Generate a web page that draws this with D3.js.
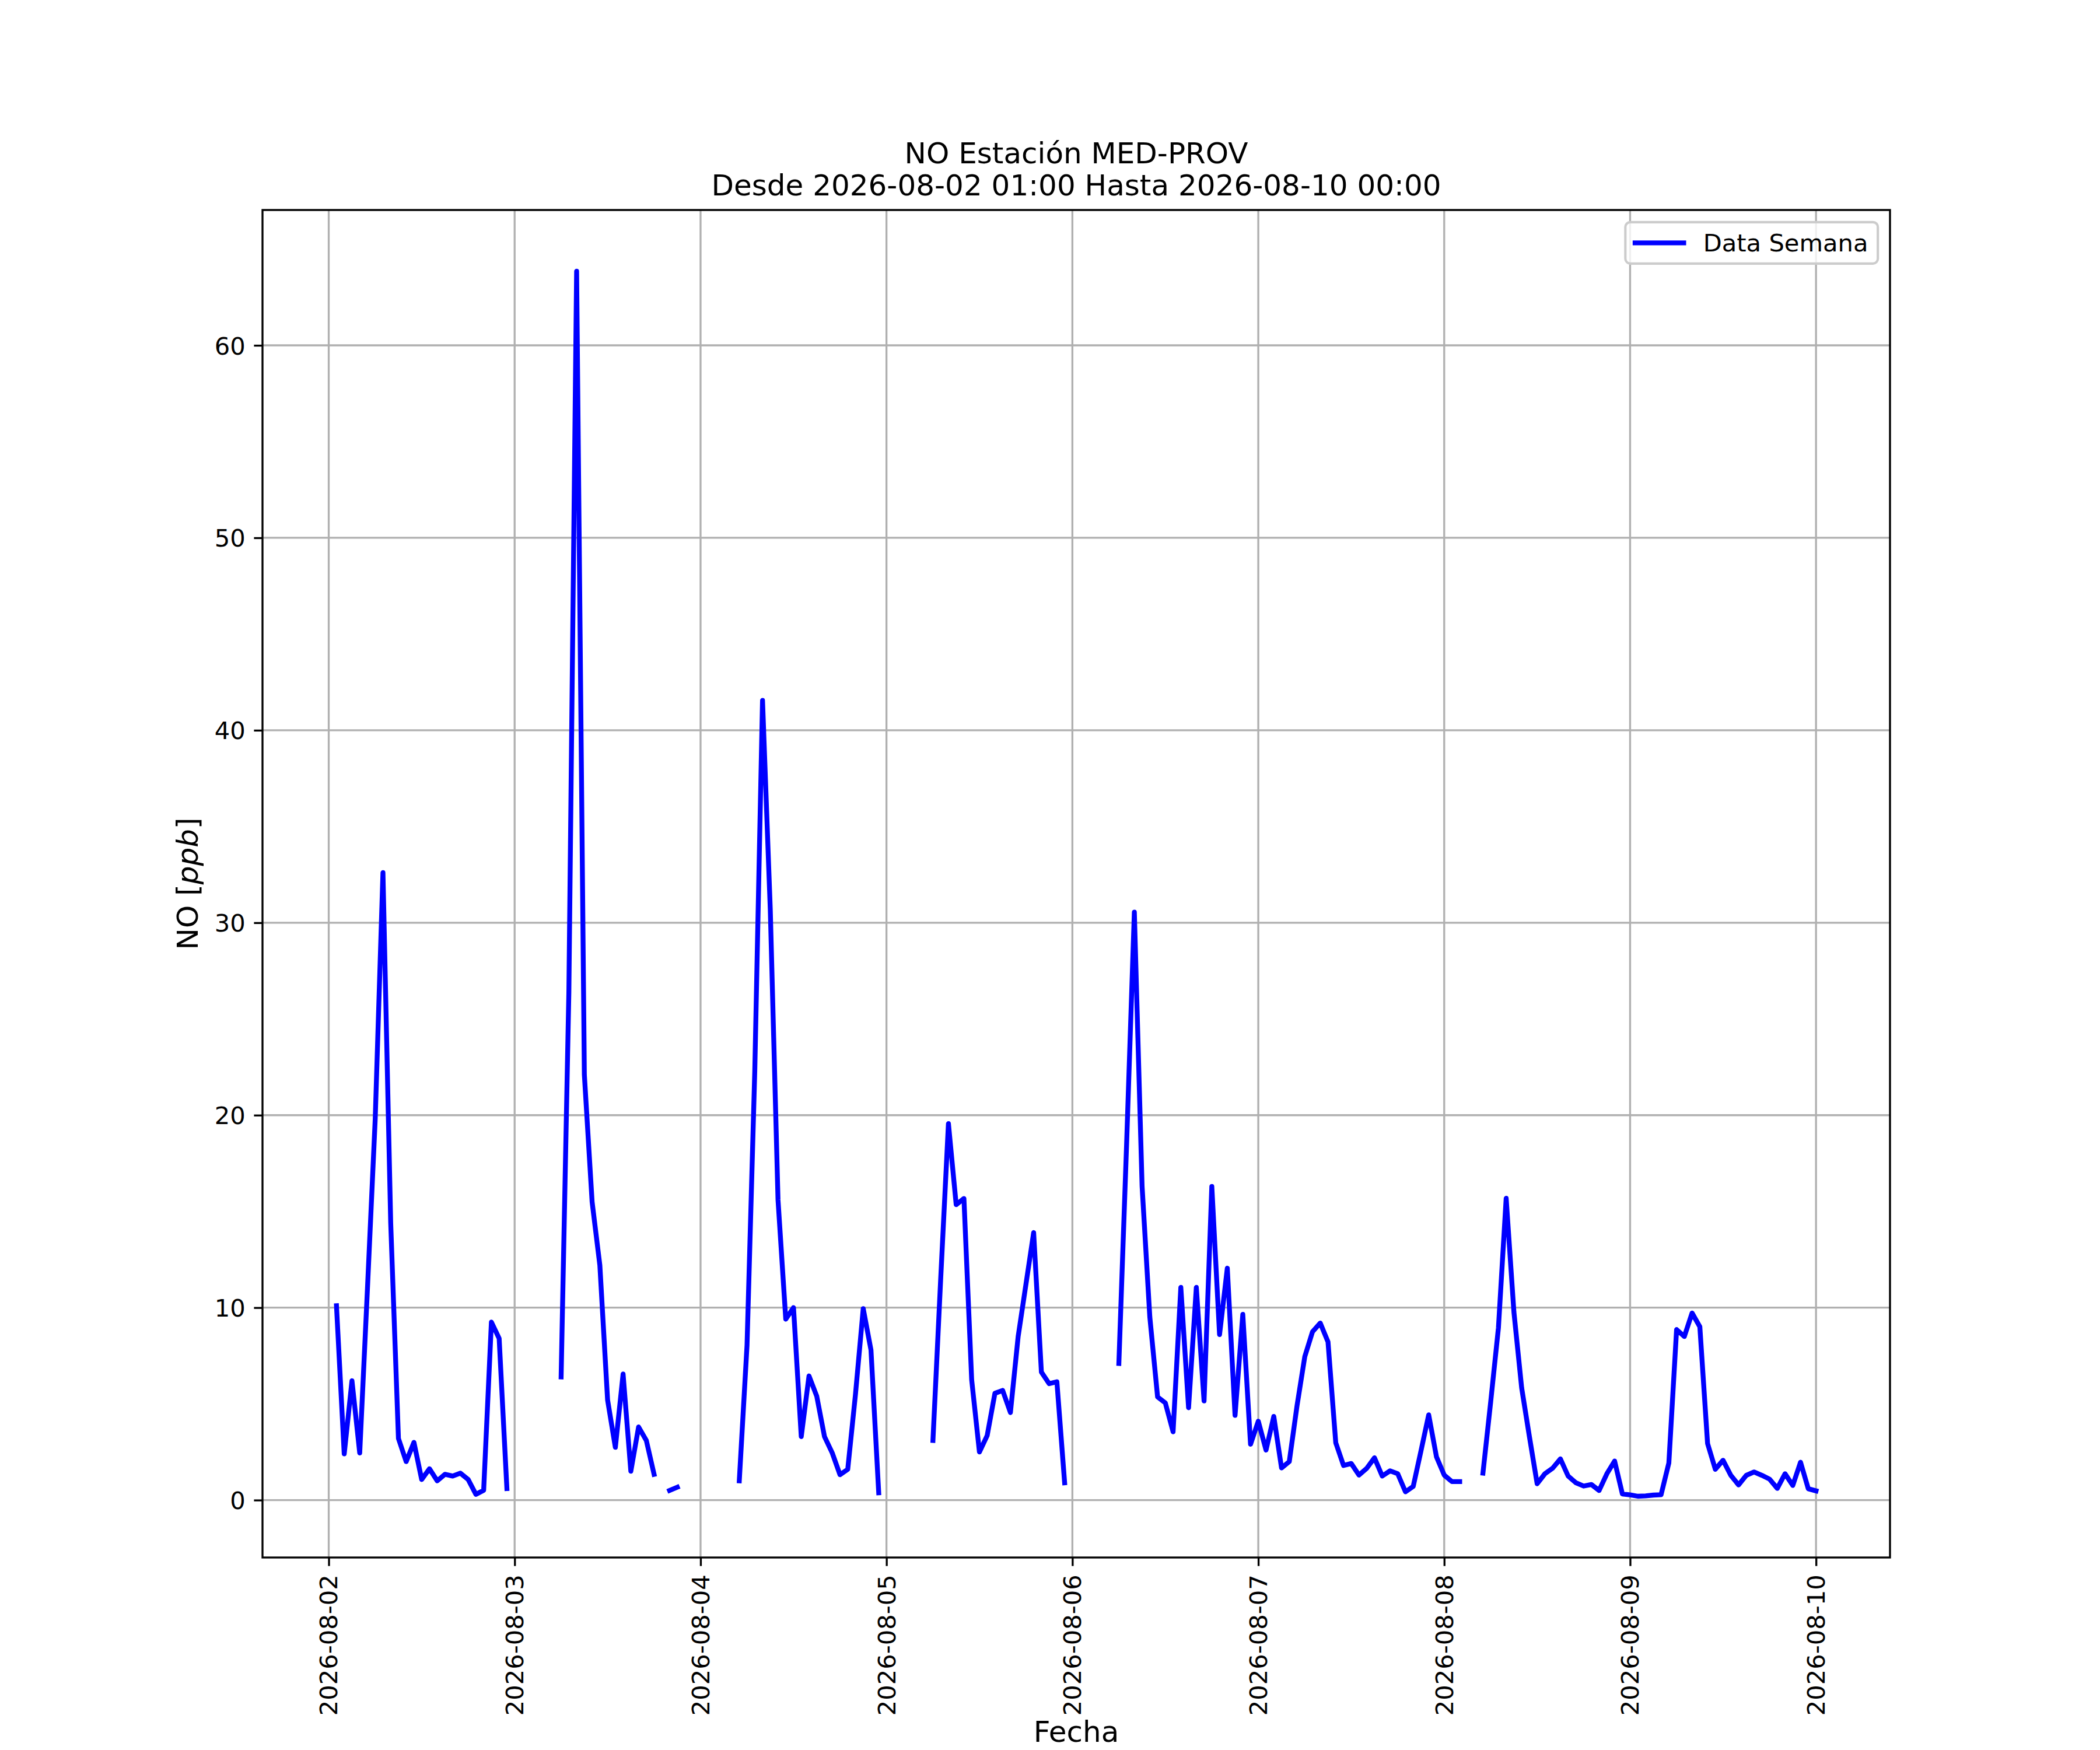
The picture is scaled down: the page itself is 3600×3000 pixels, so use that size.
<!DOCTYPE html>
<html>
<head>
<meta charset="utf-8">
<script src="https://cdn.jsdelivr.net/npm/d3@7"></script>
<style>
  body { margin: 0; background: #ffffff; }
  svg text { font-family: "DejaVu Sans", sans-serif; fill: #000000; }
</style>
</head>
<body>
<script>
// hourly NO values, each array runs from 01:00 of the date to 00:00 of the next day
var dayStarts = ['2026-08-02','2026-08-03','2026-08-04','2026-08-05','2026-08-06','2026-08-07','2026-08-08','2026-08-09'];

var no02 = [10.1, 2.4, 6.2, 2.45, 11.0, 19.8, 32.6, 14.4, 3.2, 2.0, 3.0, 1.07, 1.63, 1.0, 1.34, 1.25, 1.4, 1.07, 0.3, 0.51, 9.25, 8.4, 0.6, null];
var no03 = [null, null, null, null, null, 6.4, 26.4, 63.85, 22.1, 15.5, 12.2, 5.2, 2.74, 6.55, 1.5, 3.8, 3.1, 1.34, null, 0.5, 0.67, null, null, null];
var no04 = [null, null, null, null, 1.0, 8.05, 22.3, 41.55, 30.7, 15.6, 9.4, 10.0, 3.3, 6.45, 5.4, 3.3, 2.45, 1.32, 1.6, 5.5, 9.95, 7.8, 0.38, null];
var no05 = [null, null, null, null, null, 3.1, 11.5, 19.56, 15.35, 15.67, 6.25, 2.5, 3.35, 5.55, 5.7, 4.55, 8.5, 11.2, 13.9, 6.65, 6.05, 6.15, 0.9, null];
var no06 = [null, null, null, null, null, 7.1, 18.5, 30.55, 16.3, 9.5, 5.36, 5.05, 3.55, 11.05, 4.8, 11.05, 5.15, 16.3, 8.6, 12.05, 4.4, 9.65, 2.9, 4.1];
var no07 = [2.6, 4.35, 1.67, 2.0, 4.9, 7.45, 8.75, 9.2, 8.22, 2.98, 1.8, 1.9, 1.3, 1.65, 2.2, 1.25, 1.52, 1.37, 0.43, 0.71, 2.55, 4.43, 2.25, 1.3];
var no08 = [0.96, 0.96, null, null, 1.4, 5.1, 8.95, 15.68, 9.77, 5.83, 3.3, 0.85, 1.37, 1.66, 2.14, 1.25, 0.9, 0.73, 0.81, 0.5, 1.37, 2.03, 0.32, 0.27];
var no09 = [0.2, 0.22, 0.26, 0.28, 1.93, 8.86, 8.5, 9.72, 9.01, 2.94, 1.6, 2.07, 1.29, 0.79, 1.29, 1.46, 1.29, 1.09, 0.61, 1.37, 0.76, 1.97, 0.59, 0.48];

var yTickValues = [0, 10, 20, 30, 40, 50, 60];

var titleLines = ['NO Estación MED-PROV', 'Desde 2026-08-02 01:00 Hasta 2026-08-10 00:00'];

var parseDay = d3.timeParse("%Y-%m-%d");
var dayArrays = [no02, no03, no04, no05, no06, no07, no08, no09];

var data = [];
dayArrays.forEach(function(arr, i) {
  var start = parseDay(dayStarts[i]);
  arr.forEach(function(v, h) {
    data.push({ t: d3.timeHour.offset(start, h + 1), v: v });
  });
});

var W = 3600, H = 3000;
var pt = 300 / 72; // px per point
var margin = { left: 450, right: 360, top: 360, bottom: 330 };
var width = W - margin.left - margin.right;
var height = H - margin.top - margin.bottom;

var valid = data.filter(function(d) { return d.v != null; });
var tExt = d3.extent(valid, function(d) { return d.t; });
var tPad = (tExt[1] - tExt[0]) * 0.05;
var vExt = d3.extent(valid, function(d) { return d.v; });
var vPad = (vExt[1] - vExt[0]) * 0.05;

var x = d3.scaleTime()
          .domain([new Date(+tExt[0] - tPad), new Date(+tExt[1] + tPad)])
          .range([0, width]);

var y = d3.scaleLinear()
          .domain([vExt[0] - vPad, vExt[1] + vPad])
          .range([height, 0]);

var xTicks = x.ticks(d3.timeDay.every(1));
var fmt = d3.timeFormat("%Y-%m-%d");

var svg = d3.select("body").append("svg").attr("width", W).attr("height", H);
svg.append("rect").attr("width", W).attr("height", H).attr("fill", "#ffffff");

var chartGroup = svg.append("g").attr("transform", "translate(" + margin.left + "," + margin.top + ")");

svg.append("defs").append("clipPath").attr("id", "plotclip")
   .append("rect").attr("width", width).attr("height", height);

// grid
chartGroup.append("g").selectAll("line").data(xTicks).enter().append("line")
    .attr("x1", function(d) { return x(d); }).attr("x2", function(d) { return x(d); })
    .attr("y1", 0).attr("y2", height)
    .attr("stroke", "#b0b0b0").attr("stroke-width", 0.8 * pt);
chartGroup.append("g").selectAll("line").data(yTickValues).enter().append("line")
    .attr("y1", function(d) { return y(d); }).attr("y2", function(d) { return y(d); })
    .attr("x1", 0).attr("x2", width)
    .attr("stroke", "#b0b0b0").attr("stroke-width", 0.8 * pt);

// data line
var line = d3.line()
    .defined(function(d) { return d.v != null; })
    .x(function(d) { return x(d.t); })
    .y(function(d) { return y(d.v); });

chartGroup.append("path")
    .attr("clip-path", "url(#plotclip)")
    .attr("d", line(data))
    .attr("fill", "none")
    .attr("stroke", "#0000ff")
    .attr("stroke-width", 2 * pt)
    .attr("stroke-linejoin", "round")
    .attr("stroke-linecap", "square");

// axes
var yAxis = d3.axisLeft(y).tickValues(yTickValues).tickSize(3.5 * pt).tickPadding(3.5 * pt);
var gy = chartGroup.append("g").call(yAxis);
gy.select(".domain").remove();
gy.selectAll(".tick line").attr("stroke", "#000").attr("stroke-width", 0.8 * pt);
gy.selectAll(".tick text").attr("font-size", 10 * pt).attr("dy", "0.36em")
  .attr("font-family", "DejaVu Sans");

var xAxis = d3.axisBottom(x).tickValues(xTicks).tickFormat(fmt).tickSize(3.5 * pt).tickPadding(3.5 * pt);
var gx = chartGroup.append("g").attr("transform", "translate(0," + height + ")").call(xAxis);
gx.select(".domain").remove();
gx.selectAll(".tick line").attr("stroke", "#000").attr("stroke-width", 0.8 * pt);
gx.selectAll(".tick text")
  .attr("font-size", 10 * pt)
  .attr("font-family", "DejaVu Sans")
  .attr("y", 0).attr("dy", null)
  .attr("text-anchor", "end")
  .attr("transform", "translate(14.4," + (7 * pt) + ") rotate(-90)");

// spines
chartGroup.append("rect")
    .attr("width", width).attr("height", height)
    .attr("fill", "none").attr("stroke", "#000").attr("stroke-width", 0.8 * pt);

// title
svg.append("g").selectAll("text").data(titleLines).enter().append("text")
    .attr("x", margin.left + width / 2)
    .attr("y", function(d, i) { return 280 + i * 55; })
    .attr("text-anchor", "middle")
    .attr("font-size", 12 * pt)
    .text(function(d) { return d; });

// axis labels
svg.append("text")
    .attr("x", margin.left + width / 2).attr("y", 2986)
    .attr("text-anchor", "middle").attr("font-size", 12 * pt)
    .text("Fecha");

var yl = svg.append("text")
    .attr("transform", "translate(339," + (margin.top + height / 2) + ") rotate(-90)")
    .attr("text-anchor", "middle").attr("font-size", 12 * pt);
yl.append("tspan").text("NO [");
yl.append("tspan").attr("font-style", "italic").text("ppb");
yl.append("tspan").text("]");

// legend
var fs = 10 * pt;
var legText = "Data Semana";
var leg = chartGroup.append("g");
var lt = leg.append("text").attr("font-size", fs).text(legText);
var tw = lt.node().getComputedTextLength();
var lw = 0.4 * fs * 2 + 2 * fs + 0.8 * fs + tw;
var lh = 71;
var lx = width - 0.5 * fs - lw, ly = 0.5 * fs;
leg.insert("rect", "text")
    .attr("x", lx).attr("y", ly).attr("width", lw).attr("height", lh)
    .attr("rx", 0.2 * fs).attr("ry", 0.2 * fs)
    .attr("fill", "#ffffff").attr("fill-opacity", 0.8)
    .attr("stroke", "#cccccc").attr("stroke-width", 1 * pt);
leg.insert("line", "text")
    .attr("x1", lx + 0.4 * fs).attr("x2", lx + 0.4 * fs + 2 * fs)
    .attr("y1", ly + lh / 2).attr("y2", ly + lh / 2)
    .attr("stroke", "#0000ff").attr("stroke-width", 2 * pt).attr("stroke-linecap", "square");
lt.attr("x", lx + 0.4 * fs + 2.8 * fs).attr("y", ly + lh / 2 + 0.36 * fs);
</script>
</body>
</html>
